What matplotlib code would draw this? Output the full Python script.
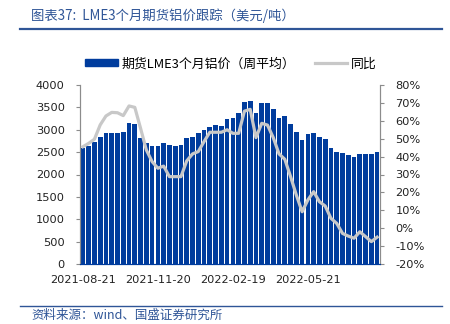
import numpy as np
import pandas as pd
import matplotlib
matplotlib.use("Agg")
import matplotlib.pyplot as plt
from matplotlib.patches import Patch
from matplotlib.lines import Line2D

plt.rcParams['font.family'] = ['Noto Sans CJK SC', 'DejaVu Sans']

# weekly LME 3-month aluminium price (weekly average, USD/t) and YoY (%)
weeks = pd.date_range("2021-08-21", periods=52, freq="7D")
price = [2600, 2644, 2726, 2830, 2935, 2935, 2935, 2940, 3143, 3120,
         2810, 2695, 2645, 2645, 2700, 2660, 2645, 2660, 2805, 2845,
         2920, 2997, 3065, 3105, 3075, 3230, 3255, 3367, 3628, 3642,
         3367, 3605, 3590, 3464, 3270, 3300, 3125, 2957, 2771, 2897,
         2920, 2845, 2786, 2599, 2510, 2488, 2436, 2398, 2458, 2458,
         2458, 2495]
yoy = [45.5, 47.4, 49.7, 57.7, 62.7, 64.7, 64.5, 62.9, 68.3, 67.5,
       55.8, 43.7, 37.2, 33.5, 34.7, 28.8, 28.8, 28.8, 37.6, 41.5,
       42.8, 48.4, 53.6, 53.6, 53.6, 55.0, 53.0, 53.0, 65.4, 66.4,
       50.6, 58.6, 57.6, 50.6, 41.5, 38.5, 28.8, 18.5, 9.2, 15.8,
       20.4, 14.8, 12.4, 5.5, 2.7, -2.9, -4.4, -5.6, -2.0, -4.7,
       -7.5, -5.0]
tick_idx = [0, 13, 26, 39]

bar_color = '#003C9D'
line_color = '#C8C8C8'
title_color = '#2F5597'
spine_color = '#8C8C8C'

fig = plt.figure(figsize=(4.5, 3.24), dpi=100)
ax = fig.add_axes([80 / 450, 60 / 324, 300 / 450, 179 / 324])
x = np.arange(len(price))
ax.bar(x, price, width=0.82, color=bar_color, zorder=2)
ax.set_xlim(-0.5, len(price) - 0.5)
ax.set_ylim(0, 4000)
ax.set_yticks(np.arange(0, 4001, 500))
ax.set_xticks(tick_idx)
ax.set_xticklabels([weeks[i].strftime("%Y-%m-%d") for i in tick_idx])

ax2 = ax.twinx()
ax2.plot(x, yoy, color=line_color, lw=2.3, zorder=3)
ax2.set_ylim(-20, 80)
ax2.set_yticks(np.arange(-20, 81, 10))
ax2.set_yticklabels([f"{v}%" for v in range(-20, 81, 10)])

for a in (ax, ax2):
    a.spines['top'].set_visible(False)
    a.spines['left'].set_color(spine_color)
    a.spines['right'].set_color(spine_color)
    a.spines['bottom'].set_color(bar_color)
    a.tick_params(labelsize=8.2, colors='#222222', length=3, width=0.8)
    for lbl in a.get_xticklabels() + a.get_yticklabels():
        lbl.set_family('DejaVu Sans')
ax.tick_params(axis='y', color=spine_color, pad=8)
ax2.tick_params(axis='y', color=spine_color, pad=8)
ax.tick_params(axis='x', length=0, pad=8)

handles = [Patch(color=bar_color), Line2D([], [], color=line_color, lw=2.3)]
labels = ['期货LME3个月铝价（周平均）', '同比']
fig.legend(handles, labels, loc='center', bbox_to_anchor=(231 / 450, 1 - 64 / 324),
           ncol=2, frameon=False, fontsize=9.3, handlelength=2.5, handleheight=0.45,
           handletextpad=0.3, columnspacing=1.5)

fig.text(31 / 450, 1 - 16 / 324, '图表37:  LME3个月期货铝价跟踪（美元/吨）',
         fontsize=9.6, color=title_color, va='center', style='italic')
fig.add_artist(Line2D([20 / 450, 442 / 450], [1 - 29 / 324] * 2,
                      color=title_color, lw=1.6))
fig.add_artist(Line2D([20 / 450, 442 / 450], [1 - 306 / 324] * 2,
                      color=title_color, lw=1.0))
fig.text(31 / 450, 1 - 315 / 324, '资料来源：wind、国盛证券研究所',
         fontsize=9, color=title_color, va='center', style='italic')

fig.savefig("out.png", dpi=100)
